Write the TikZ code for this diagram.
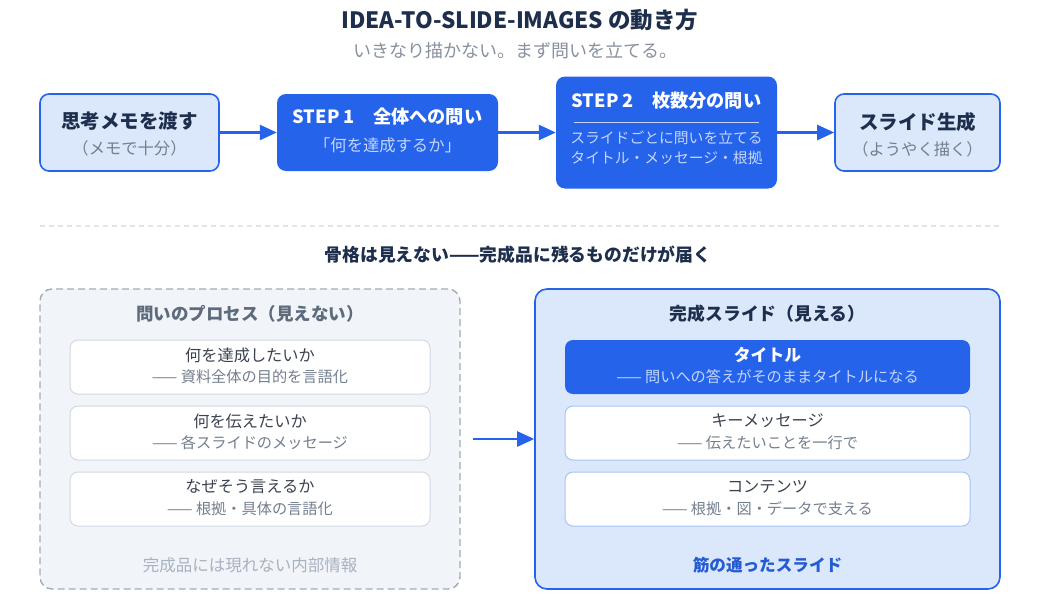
\documentclass[tikz,border=0pt]{standalone}
\usepackage{fontspec}
\setmainfont{Noto Sans CJK JP}
\usetikzlibrary{arrows.meta}
\definecolor{navy}{HTML}{1E2F4D}
\definecolor{mainblue}{HTML}{2563EB}
\definecolor{paleblue}{HTML}{DBE8FC}
\definecolor{softblue}{HTML}{C3D6FA}
\definecolor{edgeblue}{HTML}{A7C4F5}
\definecolor{subgray}{HTML}{737E8E}
\definecolor{midgray}{HTML}{5E6B7D}
\definecolor{textgray}{HTML}{3C4350}
\definecolor{lightgray}{HTML}{A9B2BF}
\definecolor{panelgray}{HTML}{F1F4F8}
\definecolor{dashgray}{HTML}{A3ACB8}
\definecolor{cardgray}{HTML}{D3DAE3}
\tikzset{
  flowbox/.style={draw=mainblue,line width=1.6pt,fill=paleblue,rounded corners=9pt},
  stepbox/.style={fill=mainblue,rounded corners=9pt},
  flowarrow/.style={draw=mainblue,line width=2.4pt,-{Triangle[length=17pt,width=15pt]}},
  headtxt/.style={font=\fontsize{19.5}{23}\selectfont\bfseries,text=navy},
  steptxt/.style={font=\fontsize{18.2}{22}\selectfont\bfseries,text=white},
  notetxt/.style={font=\fontsize{16.3}{19}\selectfont,text=subgray},
  cardtxt/.style={font=\fontsize{16.2}{19}\selectfont,text=textgray},
  cardsub/.style={font=\fontsize{15.2}{18}\selectfont,text=subgray},
  card/.style={draw=cardgray,line width=1pt,fill=white,rounded corners=8pt,minimum width=360pt,minimum height=54pt},
}
\begin{document}
\begin{tikzpicture}[x=1pt,y=-1pt]
	\useasboundingbox[fill=white] (0,0) rectangle (1046,605);
	% title
	\node[font=\fontsize{22.5}{26}\selectfont\bfseries,text=navy] (title) at (520,20) {IDEA-TO-SLIDE-IMAGES の動き方};
	\node[font=\fontsize{18}{22}\selectfont,text=subgray!85] (subtitle) at (515,51) {いきなり描かない。まず問いを立てる。};
	% top flow
	\node[flowbox,minimum width=179pt,minimum height=77pt] (memo) at (129.5,132.5) {};
	\node[headtxt] (memoA) at (129.5,121) {思考メモを渡す};
	\node[notetxt] (memoB) at (129.5,148) {（メモで十分）};
	\node[stepbox,minimum width=221pt,minimum height=77pt] (step1) at (387.5,132.5) {};
	\node[steptxt] (step1A) at (387.5,117) {STEP 1　全体への問い};
	\node[notetxt,text=softblue] (step1B) at (387.5,145) {「何を達成するか」};
	\node[stepbox,minimum width=221pt,minimum height=112pt] (step2) at (666.5,132.5) {};
	\node[steptxt] (step2A) at (666.5,101) {STEP 2　枚数分の問い};
	\coordinate (ruleL) at (574,122);
	\coordinate (ruleR) at (759,122);
	\draw[softblue,line width=0.8pt] (ruleL) -- (ruleR);
	\node[notetxt,text=softblue,font=\fontsize{14.8}{17}\selectfont] (step2B) at (666.5,138) {スライドごとに問いを立てる};
	\node[notetxt,text=softblue,font=\fontsize{14.8}{17}\selectfont] (step2C) at (666.5,158) {タイトル・メッセージ・根拠};
	\node[flowbox,minimum width=165pt,minimum height=77pt] (gen) at (917.5,132.5) {};
	\node[headtxt] (genA) at (917.5,122) {スライド生成};
	\node[notetxt] (genB) at (917.5,149) {（ようやく描く）};
	\draw[flowarrow] (memo) -- (step1);
	\draw[flowarrow] (step1) -- (step2);
	\draw[flowarrow] (step2) -- (gen);
	% separator
	\coordinate (sepL) at (40,226);
	\coordinate (sepR) at (1000,226);
	\draw[cardgray!70,line width=1.2pt,dash pattern=on 5pt off 4pt] (sepL) -- (sepR);
	\node[font=\fontsize{17.8}{21}\selectfont\bfseries,text=navy] (motto) at (518,255) {骨格は見えない——完成品に残るものだけが届く};
	% hidden process
	\node[draw=dashgray,line width=1.4pt,dash pattern=on 7pt off 4pt,fill=panelgray,rounded corners=12pt,minimum width=420pt,minimum height=300pt] (hidden) at (250,439) {};
	\node[headtxt,font=\fontsize{17.5}{21}\selectfont\bfseries,text=midgray] (hiddenT) at (250,314) {問いのプロセス（見えない）};
	\node[card] (q1) at (250,367) {};
	\node[cardtxt] (q1A) at (250,355) {何を達成したいか};
	\node[cardsub] (q1B) at (250,377) {—— 資料全体の目的を言語化};
	\node[card] (q2) at (250,433) {};
	\node[cardtxt] (q2A) at (250,421) {何を伝えたいか};
	\node[cardsub] (q2B) at (250,443) {—— 各スライドのメッセージ};
	\node[card] (q3) at (250,499) {};
	\node[cardtxt] (q3A) at (250,487) {なぜそう言えるか};
	\node[cardsub] (q3B) at (250,509) {—— 根拠・具体の言語化};
	\node[cardsub,font=\fontsize{16.5}{19}\selectfont,text=lightgray] (hiddenF) at (250,565) {完成品には現れない内部情報};
	% finished slide
	\node[flowbox,rounded corners=12pt,minimum width=465pt,minimum height=300pt] (shown) at (767.5,439) {};
	\node[headtxt,font=\fontsize{17.8}{21}\selectfont\bfseries] (shownT) at (767.5,314) {完成スライド（見える）};
	\node[stepbox,rounded corners=8pt,minimum width=405pt,minimum height=54pt] (s1) at (767.5,367) {};
	\node[cardtxt,font=\fontsize{16.8}{20}\selectfont\bfseries,text=white] (s1A) at (767.5,355) {タイトル};
	\node[cardsub,text=softblue] (s1B) at (767.5,377) {—— 問いへの答えがそのままタイトルになる};
	\node[card,draw=edgeblue,minimum width=405pt] (s2) at (767.5,433) {};
	\node[cardtxt] (s2A) at (767.5,421) {キーメッセージ};
	\node[cardsub] (s2B) at (767.5,443) {—— 伝えたいことを一行で};
	\node[card,draw=edgeblue,minimum width=405pt] (s3) at (767.5,499) {};
	\node[cardtxt] (s3A) at (767.5,487) {コンテンツ};
	\node[cardsub] (s3B) at (767.5,509) {—— 根拠・図・データで支える};
	\node[headtxt,font=\fontsize{16.6}{19}\selectfont\bfseries,text=mainblue!85!navy] (shownF) at (767.5,565) {筋の通ったスライド};
	\draw[flowarrow,shorten <=12pt] (hidden) -- (shown);
\end{tikzpicture}
\end{document}
